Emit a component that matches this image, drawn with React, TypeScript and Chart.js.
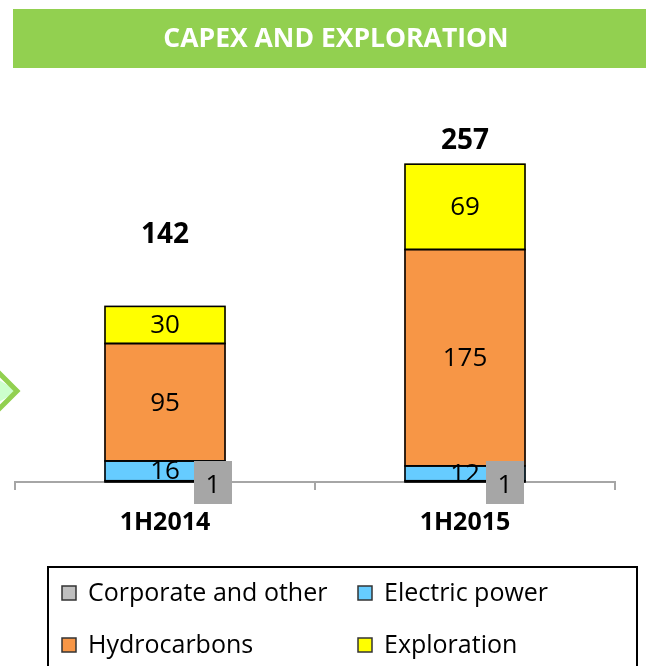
import React, { useEffect, useRef } from "react";
import { Chart, registerables } from "chart.js";

Chart.register(...registerables);

const categories = ["1H2014", "1H2015"];
const corporate = [1, 1];
const electricPower = [16, 12];
const hydrocarbons = [95, 175];
const exploration = [30, 69];
const totals = [142, 257];

const FONT = '"Open Sans", "Liberation Sans", sans-serif';

const decorPlugin = {
  id: "decor",
  beforeDraw(chart: any) {
    const { ctx } = chart;
    ctx.save();
    // title band
    ctx.fillStyle = "#92D050";
    ctx.fillRect(13, 9, 646 - 13, 59);
    ctx.fillStyle = "#FFFFFF";
    ctx.font = `bold 26.5px ${FONT}`;
    ctx.textAlign = "center";
    ctx.textBaseline = "middle";
    ctx.fillText("CAPEX AND EXPLORATION", 336, 39);
    // chevron
    ctx.beginPath();
    ctx.moveTo(-30, 362);
    ctx.lineTo(17, 391);
    ctx.lineTo(-30, 420);
    ctx.closePath();
    ctx.fillStyle = "#CCFFCC";
    ctx.fill();
    ctx.beginPath();
    ctx.moveTo(-25, 349);
    ctx.lineTo(17, 391);
    ctx.lineTo(-25, 433);
    ctx.strokeStyle = "#92D050";
    ctx.lineWidth = 5;
    ctx.stroke();
    ctx.restore();
  },
  afterDatasetsDraw(chart: any, _args: any, opts: any) {
    const { ctx } = chart;
    ctx.save();
    // outlines of every segment
    ctx.strokeStyle = "#000";
    ctx.lineWidth = 1.6;
    chart.data.datasets.forEach((_ds: any, di: number) => {
      const meta = chart.getDatasetMeta(di);
      meta.data.forEach((el: any) => {
        const l = el.x - el.width / 2;
        const t = Math.min(el.y, el.base);
        const h = Math.abs(el.base - el.y);
        ctx.strokeRect(l, t, el.width, h);
      });
    });
    ctx.textAlign = "center";
    ctx.textBaseline = "middle";
    chart.data.datasets.forEach((ds: any, di: number) => {
      const meta = chart.getDatasetMeta(di);
      meta.data.forEach((el: any, i: number) => {
        const v = ds.data[i];
        if (di === 0) {
          const cx = el.x + el.width / 2 + opts.boxOffsets[i];
          const cy = chart.chartArea.bottom;
          ctx.fillStyle = "#A6A6A6";
          ctx.fillRect(cx - 19, cy - 21, 38, 43);
          ctx.fillStyle = "#000";
          ctx.font = `26px ${FONT}`;
          ctx.fillText(String(v), cx, cy + 4);
        } else {
          ctx.fillStyle = "#000";
          ctx.font = `26px ${FONT}`;
          ctx.fillText(String(v), el.x, (el.y + el.base) / 2 + 1);
        }
      });
    });
    // totals
    const top = chart.getDatasetMeta(chart.data.datasets.length - 1);
    ctx.font = `bold 28px ${FONT}`;
    top.data.forEach((el: any, i: number) => {
      ctx.fillText(String(totals[i]), el.x, el.y - opts.totalOffsets[i]);
    });
    ctx.restore();
  },
  afterDraw(chart: any) {
    const { ctx } = chart;
    ctx.save();
    ctx.strokeStyle = "#000";
    ctx.lineWidth = 2;
    ctx.strokeRect(48, 567, 589, 120);
    ctx.font = `25px ${FONT}`;
    ctx.textAlign = "left";
    ctx.textBaseline = "middle";
    const cols = [62, 358];
    const rows = [593, 645];
    chart.data.datasets.forEach((ds: any, i: number) => {
      const x = cols[i % 2];
      const y = rows[Math.floor(i / 2)];
      ctx.fillStyle = ds.backgroundColor;
      ctx.fillRect(x, y - 7, 14, 14);
      ctx.strokeStyle = "#333";
      ctx.lineWidth = 1.5;
      ctx.strokeRect(x, y - 7, 14, 14);
      ctx.fillStyle = "#000";
      ctx.fillText(ds.label, x + 26, y + 1);
    });
    ctx.restore();
  },
};

export default function App() {
  const ref = useRef<HTMLCanvasElement>(null);
  useEffect(() => {
    if (!ref.current) return;
    const common = {
      borderWidth: 0,
      borderSkipped: false,
      inflateAmount: 0.5,
      barPercentage: 0.4,
      categoryPercentage: 1,
    };
    const chart = new Chart(ref.current, {
      type: "bar",
      data: {
        labels: categories,
        datasets: [
          { label: "Corporate and other", data: corporate, backgroundColor: "#BFBFBF", ...common },
          { label: "Electric power", data: electricPower, backgroundColor: "#66CCFF", ...common },
          { label: "Hydrocarbons", data: hydrocarbons, backgroundColor: "#F79646", ...common },
          { label: "Exploration", data: exploration, backgroundColor: "#FFFF00", ...common },
        ],
      },
      options: {
        animation: false,
        responsive: false,
        devicePixelRatio: 1,
        layout: { padding: { top: 111, left: 15, right: 31, bottom: 110 } },
        plugins: {
          legend: { display: false },
          tooltip: { enabled: false },
          title: { display: false },
          decor: { totalOffsets: [71, 23], boxOffsets: [-12, -20] },
        } as any,
        scales: {
          x: {
            stacked: true,
            grid: {
              display: true,
              drawOnChartArea: false,
              drawTicks: true,
              tickLength: 8,
              color: "#A6A6A6",
              lineWidth: 2,
              offset: true,
            },
            border: { display: true, color: "#A6A6A6", width: 2 },
            ticks: {
              color: "#000",
              padding: 18,
              font: { family: FONT, size: 25, weight: "bold" },
            },
          },
          y: { stacked: true, display: false, min: 0, max: 300 },
        },
      },
      plugins: [decorPlugin],
    } as any);
    return () => chart.destroy();
  }, []);
  return (
    <div style={{ position: "absolute", left: 0, top: 0, width: 646, height: 666, background: "#fff" }}>
      <canvas ref={ref} width={646} height={666} style={{ display: "block" }} />
    </div>
  );
}
